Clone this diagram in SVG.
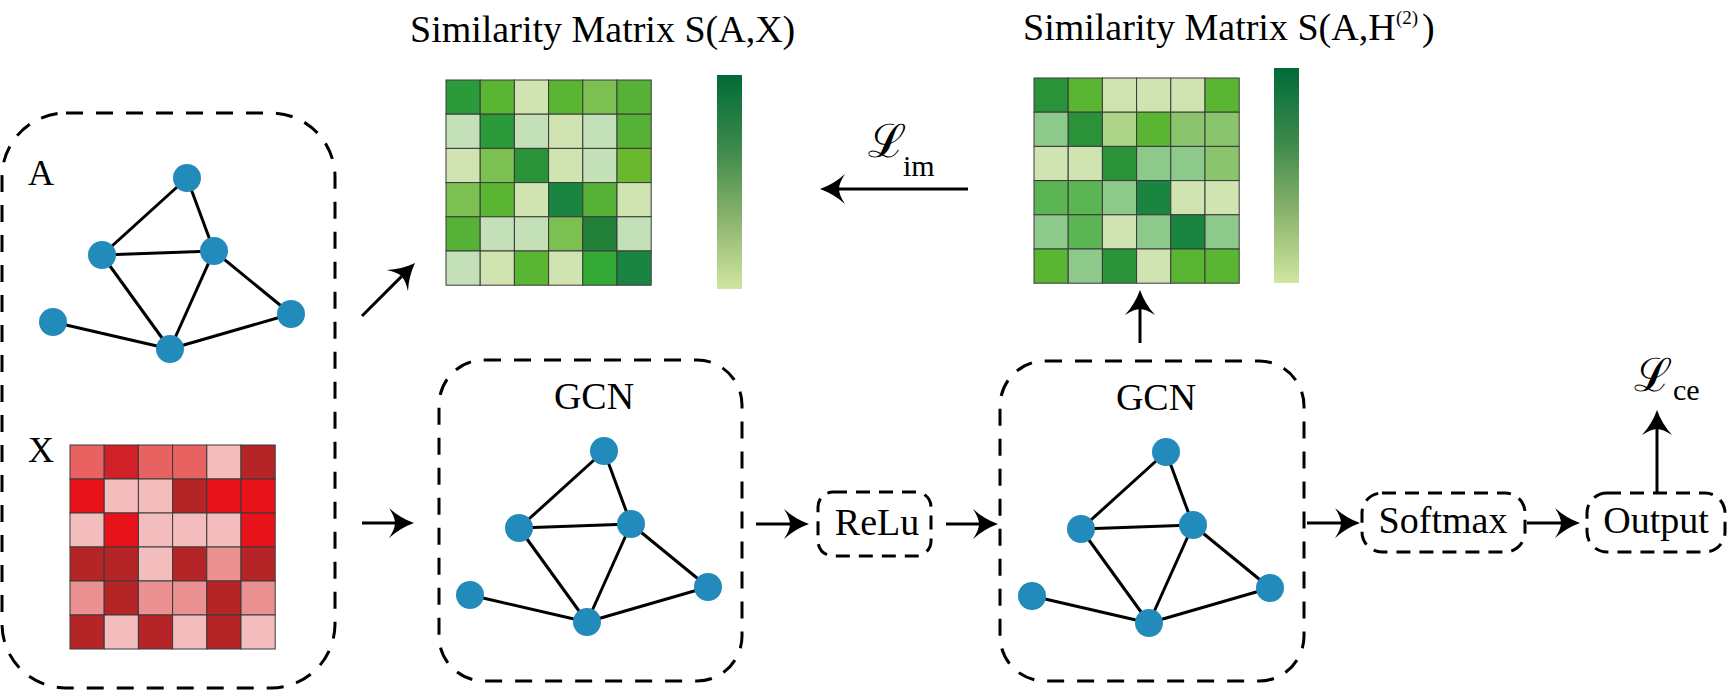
<svg xmlns="http://www.w3.org/2000/svg" width="1728" height="693" viewBox="0 0 1728 693">
<style>
text{font-family:"Liberation Serif","Times New Roman",serif;fill:#000;}
.t38{font-size:38px;}
.t36{font-size:36px;}
.scr{font-family:"DejaVu Serif","Liberation Serif",serif;font-size:46px;}
.sub{font-family:"Liberation Serif","Times New Roman",serif;font-size:30px;}
.box{fill:none;stroke:#000;stroke-width:3;stroke-dasharray:17 13;}
.sbox{fill:none;stroke:#000;stroke-width:3;stroke-dasharray:14 9;}
.edge{stroke:#000;stroke-width:3;}
.nd{fill:#238BBB;}
.conn{stroke:#000;stroke-width:3;fill:none;marker-end:url(#ah);}
.cell{stroke:#3a3a3a;stroke-width:1;}
.r1{fill:#E96262}.r2{fill:#CF2127}.r3{fill:#F3BCBD}.r4{fill:#B52528}.r5{fill:#E8121B}.r6{fill:#EB9191}
.gA{fill:#2A9A3A}.gB{fill:#5AB533}.gC{fill:#CFE4B0}.gD{fill:#7DC052}.gE{fill:#55B236}.gF{fill:#C3E0B8}
.gG{fill:#2A9239}.gH{fill:#6AB82E}.gI{fill:#198540}.gJ{fill:#228039}.gK{fill:#33AA36}.gL{fill:#8DC98A}
.gM{fill:#AED487}.gN{fill:#8AC56E}.gO{fill:#5CB553}
</style>
<defs>
<marker id="ah" viewBox="0 -16 26 32" markerWidth="26" markerHeight="32" refX="6" refY="0" markerUnits="userSpaceOnUse" orient="auto">
<path d="M25,0 Q11,-5 0,-15 Q6,-6 6,0 Q6,6 0,15 Q11,5 25,0 Z" fill="#000"/>
</marker>
<linearGradient id="gbar" x1="0" y1="0" x2="0" y2="1">
<stop offset="0" stop-color="#006B38"/>
<stop offset="0.35" stop-color="#3E8A4C"/>
<stop offset="0.65" stop-color="#86B06A"/>
<stop offset="1" stop-color="#CFE6A0"/>
</linearGradient>
<g id="graph">
<line class="edge" x1="0" y1="0" x2="-85" y2="77"/>
<line class="edge" x1="0" y1="0" x2="27" y2="73"/>
<line class="edge" x1="-85" y1="77" x2="27" y2="73"/>
<line class="edge" x1="-85" y1="77" x2="-17" y2="171"/>
<line class="edge" x1="27" y1="73" x2="-17" y2="171"/>
<line class="edge" x1="27" y1="73" x2="104" y2="136"/>
<line class="edge" x1="-134" y1="144" x2="-17" y2="171"/>
<line class="edge" x1="-17" y1="171" x2="104" y2="136"/>
<circle class="nd" cx="0" cy="0" r="14"/>
<circle class="nd" cx="-85" cy="77" r="14"/>
<circle class="nd" cx="27" cy="73" r="14"/>
<circle class="nd" cx="-134" cy="144" r="14"/>
<circle class="nd" cx="-17" cy="171" r="14"/>
<circle class="nd" cx="104" cy="136" r="14"/>
</g>
</defs>

<g id="input">
<rect class="box" x="2" y="113" width="333" height="575" rx="64" ry="64"/>
<text class="t36" x="28" y="185">A</text>
<use href="#graph" x="187" y="178"/>
<text class="t36" x="28" y="462">X</text>
<g id="matrixX" transform="translate(70,445)">
<rect class="cell r1" x="0" y="0" width="34.2" height="34"/><rect class="cell r2" x="34.2" y="0" width="34.2" height="34"/><rect class="cell r1" x="68.4" y="0" width="34.2" height="34"/><rect class="cell r1" x="102.6" y="0" width="34.2" height="34"/><rect class="cell r3" x="136.8" y="0" width="34.2" height="34"/><rect class="cell r4" x="171" y="0" width="34.2" height="34"/>
<rect class="cell r5" x="0" y="34" width="34.2" height="34"/><rect class="cell r3" x="34.2" y="34" width="34.2" height="34"/><rect class="cell r3" x="68.4" y="34" width="34.2" height="34"/><rect class="cell r4" x="102.6" y="34" width="34.2" height="34"/><rect class="cell r5" x="136.8" y="34" width="34.2" height="34"/><rect class="cell r5" x="171" y="34" width="34.2" height="34"/>
<rect class="cell r3" x="0" y="68" width="34.2" height="34"/><rect class="cell r5" x="34.2" y="68" width="34.2" height="34"/><rect class="cell r3" x="68.4" y="68" width="34.2" height="34"/><rect class="cell r3" x="102.6" y="68" width="34.2" height="34"/><rect class="cell r3" x="136.8" y="68" width="34.2" height="34"/><rect class="cell r5" x="171" y="68" width="34.2" height="34"/>
<rect class="cell r4" x="0" y="102" width="34.2" height="34"/><rect class="cell r4" x="34.2" y="102" width="34.2" height="34"/><rect class="cell r3" x="68.4" y="102" width="34.2" height="34"/><rect class="cell r4" x="102.6" y="102" width="34.2" height="34"/><rect class="cell r6" x="136.8" y="102" width="34.2" height="34"/><rect class="cell r4" x="171" y="102" width="34.2" height="34"/>
<rect class="cell r6" x="0" y="136" width="34.2" height="34"/><rect class="cell r4" x="34.2" y="136" width="34.2" height="34"/><rect class="cell r6" x="68.4" y="136" width="34.2" height="34"/><rect class="cell r6" x="102.6" y="136" width="34.2" height="34"/><rect class="cell r4" x="136.8" y="136" width="34.2" height="34"/><rect class="cell r6" x="171" y="136" width="34.2" height="34"/>
<rect class="cell r4" x="0" y="170" width="34.2" height="34"/><rect class="cell r3" x="34.2" y="170" width="34.2" height="34"/><rect class="cell r4" x="68.4" y="170" width="34.2" height="34"/><rect class="cell r3" x="102.6" y="170" width="34.2" height="34"/><rect class="cell r4" x="136.8" y="170" width="34.2" height="34"/><rect class="cell r3" x="171" y="170" width="34.2" height="34"/>
</g>
</g>

<g id="simAX">
<text class="t38" x="410" y="42">Similarity Matrix S(A,X)</text>
<g transform="translate(446,80)">
<rect class="cell gA" x="0" y="0" width="34.2" height="34.2"/><rect class="cell gB" x="34.2" y="0" width="34.2" height="34.2"/><rect class="cell gC" x="68.4" y="0" width="34.2" height="34.2"/><rect class="cell gB" x="102.6" y="0" width="34.2" height="34.2"/><rect class="cell gD" x="136.8" y="0" width="34.2" height="34.2"/><rect class="cell gE" x="171" y="0" width="34.2" height="34.2"/>
<rect class="cell gF" x="0" y="34.2" width="34.2" height="34.2"/><rect class="cell gA" x="34.2" y="34.2" width="34.2" height="34.2"/><rect class="cell gF" x="68.4" y="34.2" width="34.2" height="34.2"/><rect class="cell gC" x="102.6" y="34.2" width="34.2" height="34.2"/><rect class="cell gF" x="136.8" y="34.2" width="34.2" height="34.2"/><rect class="cell gE" x="171" y="34.2" width="34.2" height="34.2"/>
<rect class="cell gC" x="0" y="68.4" width="34.2" height="34.2"/><rect class="cell gD" x="34.2" y="68.4" width="34.2" height="34.2"/><rect class="cell gG" x="68.4" y="68.4" width="34.2" height="34.2"/><rect class="cell gC" x="102.6" y="68.4" width="34.2" height="34.2"/><rect class="cell gF" x="136.8" y="68.4" width="34.2" height="34.2"/><rect class="cell gH" x="171" y="68.4" width="34.2" height="34.2"/>
<rect class="cell gD" x="0" y="102.6" width="34.2" height="34.2"/><rect class="cell gB" x="34.2" y="102.6" width="34.2" height="34.2"/><rect class="cell gC" x="68.4" y="102.6" width="34.2" height="34.2"/><rect class="cell gI" x="102.6" y="102.6" width="34.2" height="34.2"/><rect class="cell gE" x="136.8" y="102.6" width="34.2" height="34.2"/><rect class="cell gC" x="171" y="102.6" width="34.2" height="34.2"/>
<rect class="cell gE" x="0" y="136.8" width="34.2" height="34.2"/><rect class="cell gF" x="34.2" y="136.8" width="34.2" height="34.2"/><rect class="cell gF" x="68.4" y="136.8" width="34.2" height="34.2"/><rect class="cell gD" x="102.6" y="136.8" width="34.2" height="34.2"/><rect class="cell gJ" x="136.8" y="136.8" width="34.2" height="34.2"/><rect class="cell gF" x="171" y="136.8" width="34.2" height="34.2"/>
<rect class="cell gF" x="0" y="171" width="34.2" height="34.2"/><rect class="cell gC" x="34.2" y="171" width="34.2" height="34.2"/><rect class="cell gB" x="68.4" y="171" width="34.2" height="34.2"/><rect class="cell gC" x="102.6" y="171" width="34.2" height="34.2"/><rect class="cell gK" x="136.8" y="171" width="34.2" height="34.2"/><rect class="cell gI" x="171" y="171" width="34.2" height="34.2"/>
</g>
<rect x="717" y="75" width="25" height="214" fill="url(#gbar)"/>
</g>

<g id="simAH">
<text class="t38" x="1023" y="40">Similarity Matrix S(A,H<tspan x="1396" y="24" font-size="19">(2)</tspan><tspan x="1422" y="40">)</tspan></text>
<g transform="translate(1034,78)">
<rect class="cell gG" x="0" y="0" width="34.2" height="34.2"/><rect class="cell gB" x="34.2" y="0" width="34.2" height="34.2"/><rect class="cell gC" x="68.4" y="0" width="34.2" height="34.2"/><rect class="cell gC" x="102.6" y="0" width="34.2" height="34.2"/><rect class="cell gC" x="136.8" y="0" width="34.2" height="34.2"/><rect class="cell gB" x="171" y="0" width="34.2" height="34.2"/>
<rect class="cell gL" x="0" y="34.2" width="34.2" height="34.2"/><rect class="cell gG" x="34.2" y="34.2" width="34.2" height="34.2"/><rect class="cell gM" x="68.4" y="34.2" width="34.2" height="34.2"/><rect class="cell gB" x="102.6" y="34.2" width="34.2" height="34.2"/><rect class="cell gN" x="136.8" y="34.2" width="34.2" height="34.2"/><rect class="cell gN" x="171" y="34.2" width="34.2" height="34.2"/>
<rect class="cell gC" x="0" y="68.4" width="34.2" height="34.2"/><rect class="cell gC" x="34.2" y="68.4" width="34.2" height="34.2"/><rect class="cell gG" x="68.4" y="68.4" width="34.2" height="34.2"/><rect class="cell gL" x="102.6" y="68.4" width="34.2" height="34.2"/><rect class="cell gL" x="136.8" y="68.4" width="34.2" height="34.2"/><rect class="cell gN" x="171" y="68.4" width="34.2" height="34.2"/>
<rect class="cell gO" x="0" y="102.6" width="34.2" height="34.2"/><rect class="cell gO" x="34.2" y="102.6" width="34.2" height="34.2"/><rect class="cell gL" x="68.4" y="102.6" width="34.2" height="34.2"/><rect class="cell gI" x="102.6" y="102.6" width="34.2" height="34.2"/><rect class="cell gC" x="136.8" y="102.6" width="34.2" height="34.2"/><rect class="cell gC" x="171" y="102.6" width="34.2" height="34.2"/>
<rect class="cell gL" x="0" y="136.8" width="34.2" height="34.2"/><rect class="cell gO" x="34.2" y="136.8" width="34.2" height="34.2"/><rect class="cell gC" x="68.4" y="136.8" width="34.2" height="34.2"/><rect class="cell gL" x="102.6" y="136.8" width="34.2" height="34.2"/><rect class="cell gI" x="136.8" y="136.8" width="34.2" height="34.2"/><rect class="cell gL" x="171" y="136.8" width="34.2" height="34.2"/>
<rect class="cell gB" x="0" y="171" width="34.2" height="34.2"/><rect class="cell gL" x="34.2" y="171" width="34.2" height="34.2"/><rect class="cell gG" x="68.4" y="171" width="34.2" height="34.2"/><rect class="cell gC" x="102.6" y="171" width="34.2" height="34.2"/><rect class="cell gB" x="136.8" y="171" width="34.2" height="34.2"/><rect class="cell gB" x="171" y="171" width="34.2" height="34.2"/>
</g>
<rect x="1274" y="68" width="25" height="215" fill="url(#gbar)"/>
</g>

<g id="gcn1">
<rect class="box" x="439" y="360" width="303" height="321" rx="45" ry="45"/>
<text class="t38" x="594" y="409" text-anchor="middle">GCN</text>
<use href="#graph" x="604" y="451"/>
</g>

<g id="relu">
<rect class="sbox" x="818" y="492" width="113" height="64" rx="15" ry="15"/>
<text class="t38" x="877" y="535" text-anchor="middle">ReLu</text>
</g>

<g id="gcn2">
<rect class="box" x="1000" y="361" width="304" height="320" rx="45" ry="45"/>
<text class="t38" x="1156" y="410" text-anchor="middle">GCN</text>
<use href="#graph" x="1166" y="452"/>
</g>

<g id="softmax">
<rect class="sbox" x="1362" y="493" width="163" height="59" rx="20" ry="20"/>
<text class="t38" x="1443" y="533" text-anchor="middle">Softmax</text>
</g>

<g id="output">
<rect class="sbox" x="1587" y="493" width="138" height="59" rx="20" ry="20"/>
<text class="t38" x="1656" y="533" text-anchor="middle">Output</text>
</g>

<g id="loss-im">
<text class="scr" x="868" y="157">ℒ</text>
<text class="sub" x="903" y="176">im</text>
</g>

<g id="loss-ce">
<text class="scr" x="1634" y="391">ℒ</text>
<text class="sub" x="1673" y="400">ce</text>
</g>

<g id="connectors">
<line class="conn" x1="362" y1="316" x2="401.6" y2="276.4"/>
<line class="conn" x1="362" y1="523" x2="395" y2="523"/>
<line class="conn" x1="756" y1="524" x2="790" y2="524"/>
<line class="conn" x1="946" y1="524" x2="979" y2="524"/>
<line class="conn" x1="1140" y1="343" x2="1140" y2="309"/>
<line class="conn" x1="968" y1="189" x2="839" y2="189"/>
<line class="conn" x1="1307" y1="523" x2="1341" y2="523"/>
<line class="conn" x1="1527" y1="523" x2="1561" y2="523"/>
<line class="conn" x1="1657" y1="493" x2="1657" y2="429"/>
</g>
</svg>
